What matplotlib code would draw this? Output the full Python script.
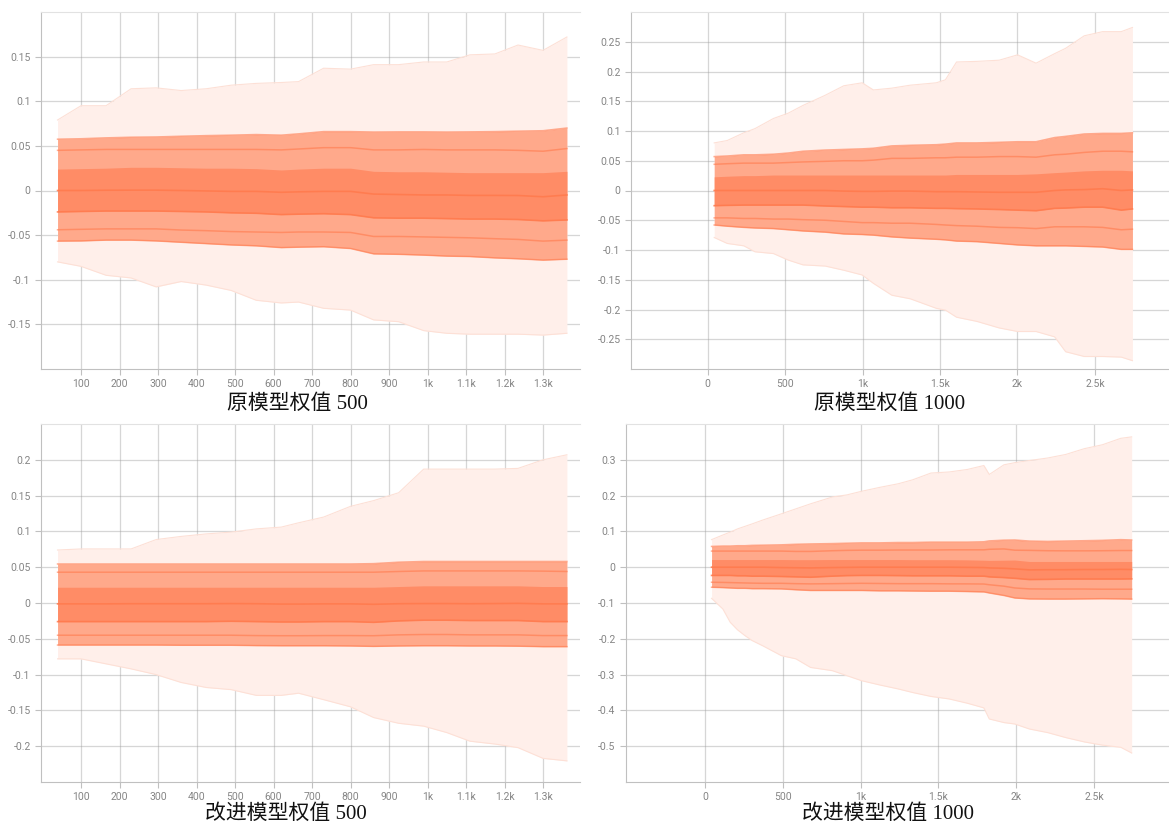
import numpy as np
import matplotlib
matplotlib.use("Agg")
import matplotlib.pyplot as plt
from matplotlib.ticker import FuncFormatter

plt.rcParams['font.family'] = ['Roboto', 'DejaVu Sans']

# ---- 原模型权值 500 ----
steps_a = [39, 100, 165, 230, 295, 360, 425, 490, 555, 620, 665, 730, 800, 860, 925, 990, 1050, 1110, 1175, 1235, 1300, 1362]
max_a = [0.079, 0.095, 0.095, 0.114, 0.115, 0.112, 0.114, 0.118, 0.120, 0.121, 0.122, 0.137, 0.136, 0.141, 0.141, 0.144, 0.144, 0.152, 0.153, 0.163, 0.157, 0.172]
q93_a = [0.0575, 0.058, 0.059, 0.0597, 0.060, 0.0608, 0.0615, 0.062, 0.0627, 0.062, 0.0635, 0.066, 0.066, 0.0655, 0.0657, 0.0657, 0.0655, 0.0657, 0.066, 0.0665, 0.067, 0.070]
q84_a = [0.045, 0.0455, 0.046, 0.046, 0.046, 0.046, 0.046, 0.046, 0.046, 0.0455, 0.0465, 0.048, 0.048, 0.0455, 0.0455, 0.046, 0.0455, 0.0455, 0.0455, 0.045, 0.044, 0.047]
q69_a = [0.024, 0.0245, 0.025, 0.026, 0.026, 0.0255, 0.025, 0.025, 0.0245, 0.023, 0.024, 0.025, 0.025, 0.0215, 0.021, 0.021, 0.0205, 0.020, 0.020, 0.020, 0.020, 0.0215]
q50_a = [0.0, 0.0, 0.0003, 0.0004, 0.0004, 0.0, -0.0005, -0.001, -0.001, -0.002, -0.0015, -0.001, -0.001, -0.004, -0.0045, -0.005, -0.005, -0.0055, -0.0055, -0.0056, -0.007, -0.005]
q31_a = [-0.024, -0.0235, -0.023, -0.023, -0.023, -0.0235, -0.024, -0.025, -0.0255, -0.027, -0.0265, -0.026, -0.027, -0.0306, -0.031, -0.031, -0.0315, -0.032, -0.032, -0.0325, -0.034, -0.033]
q16_a = [-0.044, -0.0435, -0.043, -0.043, -0.043, -0.0443, -0.045, -0.046, -0.0465, -0.047, -0.0465, -0.0465, -0.047, -0.0515, -0.0515, -0.052, -0.0525, -0.053, -0.054, -0.0548, -0.0567, -0.0556]
q7_a = [-0.0567, -0.0565, -0.0556, -0.0556, -0.0565, -0.058, -0.0595, -0.061, -0.062, -0.064, -0.0635, -0.063, -0.065, -0.071, -0.0715, -0.0724, -0.0735, -0.074, -0.0755, -0.0765, -0.078, -0.077]
min_a = [-0.080, -0.085, -0.095, -0.098, -0.108, -0.102, -0.106, -0.112, -0.123, -0.126, -0.125, -0.132, -0.134, -0.145, -0.147, -0.157, -0.160, -0.161, -0.161, -0.161, -0.162, -0.160]

# ---- 原模型权值 1000 ----
steps_b = [43, 127, 234, 306, 425, 521, 616, 759, 879, 998, 1070, 1189, 1308, 1476, 1535, 1607, 1738, 1882, 2001, 2120, 2240, 2311, 2431, 2550, 2670, 2742]
max_b = [0.080, 0.084, 0.097, 0.104, 0.121, 0.130, 0.143, 0.160, 0.176, 0.181, 0.169, 0.172, 0.177, 0.181, 0.186, 0.216, 0.217, 0.219, 0.228, 0.214, 0.230, 0.239, 0.260, 0.267, 0.267, 0.274]
q93_b = [0.057, 0.058, 0.060, 0.060, 0.061, 0.063, 0.066, 0.068, 0.069, 0.070, 0.071, 0.075, 0.076, 0.077, 0.078, 0.080, 0.080, 0.081, 0.082, 0.082, 0.089, 0.091, 0.095, 0.096, 0.096, 0.097]
q84_b = [0.044, 0.045, 0.046, 0.046, 0.046, 0.047, 0.048, 0.049, 0.050, 0.050, 0.051, 0.054, 0.054, 0.055, 0.055, 0.056, 0.056, 0.057, 0.057, 0.056, 0.060, 0.061, 0.064, 0.066, 0.066, 0.065]
q69_b = [0.023, 0.024, 0.025, 0.025, 0.026, 0.026, 0.026, 0.026, 0.026, 0.026, 0.026, 0.026, 0.026, 0.026, 0.026, 0.027, 0.027, 0.027, 0.027, 0.028, 0.030, 0.031, 0.033, 0.034, 0.034, 0.033]
q50_b = [0.0, 0.0, 0.0, 0.0, 0.0, 0.0, 0.0, 0.0, -0.001, -0.0015, -0.0015, -0.001, -0.001, -0.002, -0.002, -0.002, -0.0025, -0.003, -0.003, -0.003, 0.0, 0.001, 0.0015, 0.003, 0.0, 0.001]
q31_b = [-0.0255, -0.025, -0.0245, -0.0245, -0.0245, -0.0245, -0.0245, -0.026, -0.027, -0.028, -0.028, -0.029, -0.029, -0.030, -0.030, -0.0305, -0.031, -0.032, -0.033, -0.034, -0.030, -0.0295, -0.028, -0.028, -0.033, -0.031]
q16_b = [-0.046, -0.046, -0.047, -0.047, -0.048, -0.048, -0.049, -0.050, -0.052, -0.054, -0.054, -0.055, -0.055, -0.057, -0.058, -0.059, -0.060, -0.062, -0.0625, -0.064, -0.061, -0.061, -0.061, -0.062, -0.066, -0.065]
q7_b = [-0.058, -0.060, -0.062, -0.063, -0.064, -0.066, -0.068, -0.070, -0.073, -0.074, -0.075, -0.078, -0.080, -0.082, -0.083, -0.085, -0.086, -0.089, -0.0915, -0.093, -0.093, -0.093, -0.094, -0.095, -0.099, -0.099]
min_b = [-0.079, -0.089, -0.093, -0.103, -0.106, -0.117, -0.125, -0.127, -0.134, -0.142, -0.156, -0.176, -0.182, -0.198, -0.201, -0.213, -0.220, -0.231, -0.237, -0.237, -0.246, -0.271, -0.279, -0.279, -0.280, -0.286]

# ---- 改进模型权值 500 ----
steps_c = [39, 100, 165, 230, 295, 360, 425, 490, 555, 620, 665, 730, 800, 860, 925, 990, 1050, 1110, 1175, 1235, 1300, 1362]
max_c = [0.074, 0.0755, 0.0755, 0.0755, 0.0886, 0.093, 0.0965, 0.099, 0.1035, 0.106, 0.112, 0.120, 0.135, 0.143, 0.154, 0.187, 0.187, 0.187, 0.187, 0.188, 0.200, 0.207]
q93_c = [0.0545, 0.0545, 0.0545, 0.0545, 0.0545, 0.0545, 0.0545, 0.0545, 0.0545, 0.0545, 0.0545, 0.0545, 0.0545, 0.055, 0.057, 0.058, 0.058, 0.058, 0.058, 0.058, 0.058, 0.058]
q84_c = [0.043, 0.043, 0.043, 0.043, 0.043, 0.043, 0.043, 0.043, 0.043, 0.043, 0.043, 0.043, 0.043, 0.043, 0.044, 0.0448, 0.0448, 0.0448, 0.0448, 0.0448, 0.0445, 0.044]
q69_c = [0.022, 0.022, 0.022, 0.022, 0.022, 0.022, 0.022, 0.022, 0.022, 0.022, 0.022, 0.022, 0.022, 0.022, 0.023, 0.024, 0.024, 0.024, 0.024, 0.024, 0.023, 0.023]
q50_c = [-0.0012, -0.0012, -0.0012, -0.001, -0.001, -0.001, -0.001, -0.0008, -0.001, -0.0015, -0.0015, -0.0012, -0.0012, -0.0018, -0.001, -0.0008, -0.0008, -0.001, -0.0008, -0.0005, -0.0012, -0.0012]
q31_c = [-0.026, -0.026, -0.026, -0.026, -0.026, -0.026, -0.026, -0.0255, -0.026, -0.0265, -0.0265, -0.026, -0.026, -0.027, -0.025, -0.024, -0.024, -0.0245, -0.0245, -0.0245, -0.026, -0.026]
q16_c = [-0.045, -0.045, -0.045, -0.045, -0.045, -0.045, -0.045, -0.045, -0.0455, -0.0457, -0.0457, -0.0455, -0.0455, -0.0457, -0.0445, -0.044, -0.044, -0.0445, -0.0445, -0.0445, -0.0455, -0.0455]
q7_c = [-0.0587, -0.0587, -0.0587, -0.0587, -0.0587, -0.059, -0.059, -0.059, -0.0595, -0.0597, -0.0597, -0.0597, -0.060, -0.0606, -0.060, -0.0597, -0.0597, -0.060, -0.060, -0.0603, -0.061, -0.061]
min_c = [-0.078, -0.078, -0.085, -0.092, -0.100, -0.111, -0.118, -0.121, -0.129, -0.129, -0.126, -0.135, -0.145, -0.160, -0.168, -0.172, -0.181, -0.193, -0.197, -0.202, -0.217, -0.2205]

# ---- 改进模型权值 1000 ----
steps_d = [42, 115, 162, 209, 256, 303, 373, 490, 584, 678, 818, 912, 1006, 1123, 1241, 1334, 1452, 1569, 1686, 1792, 1827, 1921, 1991, 2085, 2202, 2319, 2437, 2554, 2672, 2742]
max_d = [0.077, 0.090, 0.098, 0.107, 0.114, 0.121, 0.132, 0.149, 0.163, 0.177, 0.196, 0.202, 0.212, 0.223, 0.233, 0.244, 0.263, 0.266, 0.273, 0.284, 0.259, 0.286, 0.292, 0.298, 0.305, 0.315, 0.331, 0.342, 0.360, 0.364]
q93_d = [0.058, 0.059, 0.059, 0.060, 0.060, 0.061, 0.0615, 0.0625, 0.064, 0.065, 0.066, 0.067, 0.068, 0.068, 0.069, 0.069, 0.070, 0.070, 0.070, 0.071, 0.0735, 0.0755, 0.076, 0.073, 0.072, 0.073, 0.074, 0.075, 0.077, 0.076]
q84_d = [0.045, 0.045, 0.045, 0.045, 0.045, 0.045, 0.045, 0.045, 0.044, 0.044, 0.046, 0.047, 0.0475, 0.0475, 0.048, 0.048, 0.048, 0.0485, 0.0485, 0.0485, 0.050, 0.051, 0.0475, 0.047, 0.046, 0.0457, 0.0457, 0.046, 0.0466, 0.0466]
q69_d = [0.0214, 0.0214, 0.0214, 0.0214, 0.0214, 0.0214, 0.0214, 0.0214, 0.021, 0.021, 0.0214, 0.0214, 0.0214, 0.0214, 0.0214, 0.021, 0.021, 0.021, 0.0205, 0.0195, 0.019, 0.0195, 0.020, 0.016, 0.016, 0.016, 0.016, 0.016, 0.016, 0.016]
q50_d = [0.0, 0.0, 0.0, 0.0, 0.0, 0.0, 0.0, -0.001, -0.0015, -0.002, -0.001, -0.0005, 0.0, 0.0, 0.0, 0.0, 0.0, 0.0, -0.0005, -0.001, -0.002, -0.003, -0.0047, -0.0075, -0.007, -0.007, -0.0065, -0.0065, -0.006, -0.0065]
q31_d = [-0.023, -0.023, -0.023, -0.024, -0.024, -0.025, -0.025, -0.026, -0.027, -0.028, -0.025, -0.0235, -0.023, -0.023, -0.0235, -0.024, -0.024, -0.024, -0.025, -0.025, -0.027, -0.029, -0.031, -0.0345, -0.034, -0.033, -0.033, -0.033, -0.033, -0.0326]
q16_d = [-0.042, -0.0425, -0.043, -0.0435, -0.044, -0.0445, -0.045, -0.045, -0.046, -0.0466, -0.046, -0.0455, -0.045, -0.0455, -0.046, -0.046, -0.046, -0.0465, -0.0466, -0.047, -0.049, -0.053, -0.058, -0.0606, -0.061, -0.061, -0.061, -0.0615, -0.0615, -0.0615]
q7_d = [-0.056, -0.057, -0.058, -0.059, -0.059, -0.060, -0.060, -0.0606, -0.063, -0.065, -0.065, -0.065, -0.065, -0.066, -0.066, -0.0665, -0.067, -0.067, -0.068, -0.069, -0.072, -0.079, -0.086, -0.0886, -0.089, -0.089, -0.0885, -0.088, -0.0885, -0.089]
min_d = [-0.087, -0.117, -0.154, -0.175, -0.191, -0.205, -0.220, -0.247, -0.256, -0.280, -0.289, -0.303, -0.317, -0.329, -0.340, -0.350, -0.361, -0.368, -0.380, -0.393, -0.424, -0.434, -0.438, -0.452, -0.462, -0.476, -0.488, -0.497, -0.503, -0.519]

titles = ['原模型权值 500', '原模型权值 1000', '改进模型权值 500', '改进模型权值 1000']

outer_c = '#ffefea'
outer_edge = '#fde0d6'
mid_c = '#ffa98b'
core_c = '#ff8c66'
line_c = '#ff7a4d'


def step_fmt(v, pos):
    if v >= 1000:
        return f"{v / 1000:g}k"
    return f"{v:g}"


def val_fmt(v, pos):
    v = round(v, 4)
    if v == 0:
        return "0"
    return f"{v:g}"


def draw(ax, steps, mx, q93, q84, q69, q50, q31, q16, q7, mn, xlim, xticks, ylim, yticks):
    x = np.array(steps)
    ax.fill_between(x, mn, mx, color=outer_c, lw=0, zorder=2)
    ax.plot(x, mx, color=outer_edge, lw=0.8, zorder=2)
    ax.plot(x, mn, color=outer_edge, lw=0.8, zorder=2)
    ax.fill_between(x, q7, q93, color=mid_c, lw=0, zorder=3)
    ax.fill_between(x, q31, q69, color=core_c, lw=0, zorder=4)
    for q in (q93, q84, q16, q7):
        ax.plot(x, q, color=line_c, lw=1.1, alpha=0.6, zorder=5)
    for q in (q50, q31):
        ax.plot(x, q, color=line_c, lw=1.2, alpha=0.85, zorder=5)
    ax.set_xlim(*xlim)
    ax.set_ylim(*ylim)
    ax.set_xticks(xticks)
    ax.set_yticks(yticks)
    ax.xaxis.set_major_formatter(FuncFormatter(step_fmt))
    ax.yaxis.set_major_formatter(FuncFormatter(val_fmt))
    ax.grid(True, color='#9a9a9a', lw=0.9, alpha=0.4)
    for g in ax.get_xgridlines() + ax.get_ygridlines():
        g.set_zorder(6)
    ax.spines['right'].set_visible(False)
    ax.spines['top'].set_color('#e2e2e2')
    ax.spines['left'].set_color('#c0c0c0')
    ax.spines['bottom'].set_color('#c0c0c0')
    ax.tick_params(axis='both', colors='#c0c0c0', labelcolor='#858585', labelsize=7.5, length=4, width=0.8)


fig = plt.figure(figsize=(11.69, 8.25), dpi=100)
W, H = 1169, 825
boxes = [(41, 12, 580, 369), (631, 12, 1169, 369), (41, 424, 580, 782), (626, 424, 1169, 782)]
axes = [fig.add_axes([l / W, 1 - b / H, (r - l) / W, (b - t) / H]) for l, t, r, b in boxes]

draw(axes[0], steps_a, max_a, q93_a, q84_a, q69_a, q50_a, q31_a, q16_a, q7_a, min_a,
     (-4, 1396), range(100, 1301, 100), (-0.2, 0.2), [-0.15, -0.1, -0.05, 0, 0.05, 0.1, 0.15])
draw(axes[1], steps_b, max_b, q93_b, q84_b, q69_b, q50_b, q31_b, q16_b, q7_b, min_b,
     (-494, 2978), range(0, 2501, 500), (-0.3, 0.3), [-0.25, -0.2, -0.15, -0.1, -0.05, 0, 0.05, 0.1, 0.15, 0.2, 0.25])
draw(axes[2], steps_c, max_c, q93_c, q84_c, q69_c, q50_c, q31_c, q16_c, q7_c, min_c,
     (-4, 1396), range(100, 1301, 100), (-0.25, 0.25), [-0.2, -0.15, -0.1, -0.05, 0, 0.05, 0.1, 0.15, 0.2])
draw(axes[3], steps_d, max_d, q93_d, q84_d, q69_d, q50_d, q31_d, q16_d, q7_d, min_d,
     (-508, 2982), range(0, 2501, 500), (-0.6, 0.4), [-0.5, -0.4, -0.3, -0.2, -0.1, 0, 0.1, 0.2, 0.3])

title_pos = [(297, 404), (890, 404), (286, 814), (888, 814)]
for (tx, ty), t in zip(title_pos, titles):
    fig.text(tx / W, 1 - ty / H, t, ha='center', va='center', fontsize=15,
             family=['Liberation Serif', 'Noto Sans CJK SC'], color='#111111')

fig.savefig('out.png', dpi=100)
